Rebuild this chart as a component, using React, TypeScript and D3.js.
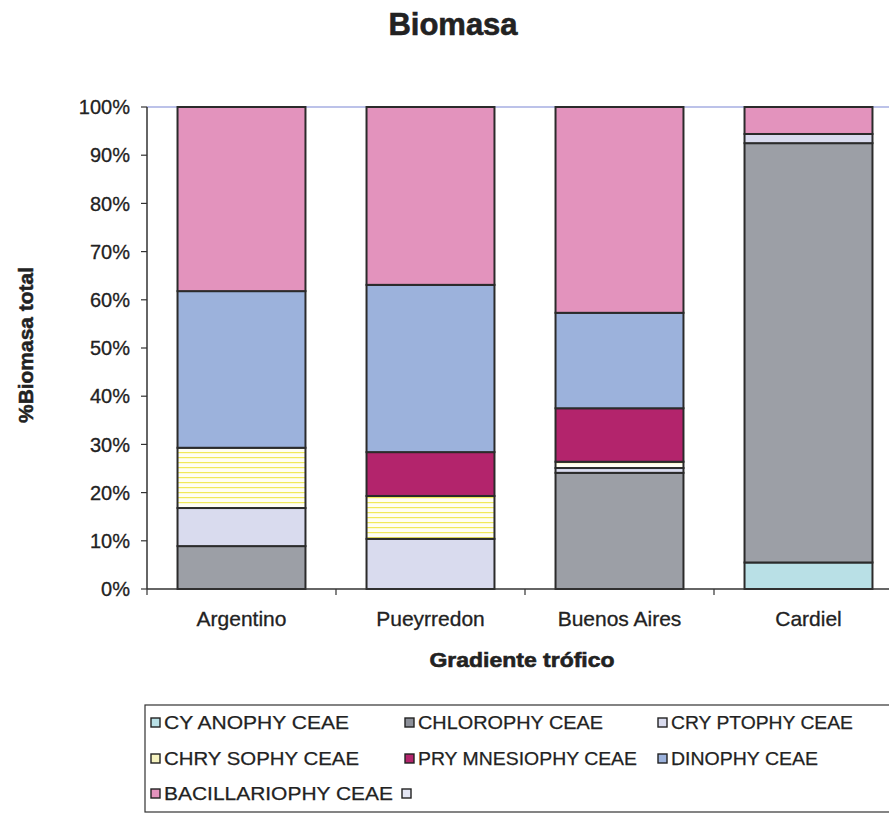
import React from "react";
import * as d3 from "d3";

// Sites along the trophic gradient
const categories = ["Argentino", "Pueyrredon", "Buenos Aires", "Cardiel"];

// Algal groups (stack order, bottom to top)
const groups = [
  "CYANOPHYCEAE",
  "CHLOROPHYCEAE",
  "CRYPTOPHYCEAE",
  "CHRYSOPHYCEAE",
  "PRYMNESIOPHYCEAE",
  "DINOPHYCEAE",
  "BACILLARIOPHYCEAE",
];

// Legend captions as printed
const legendLabels = [
  "CY ANOPHY CEAE",
  "CHLOROPHY CEAE",
  "CRY PTOPHY CEAE",
  "CHRY SOPHY CEAE",
  "PRY MNESIOPHY CEAE",
  "DINOPHY CEAE",
  "BACILLARIOPHY CEAE",
  "",
];

// Percent of total biomass per group, one value per site
const cyanophyceae = [0, 0, 0, 5.5];
const chlorophyceae = [8.9, 0, 24.1, 87.0];
const cryptophyceae = [7.9, 10.4, 1.0, 1.9];
const chrysophyceae = [12.5, 8.9, 1.3, 0];
const prymnesiophyceae = [0, 9.1, 11.1, 0];
const dinophyceae = [32.5, 34.7, 19.8, 0];
const bacillariophyceae = [38.2, 36.9, 42.7, 5.6];

const yTicks = [0, 10, 20, 30, 40, 50, 60, 70, 80, 90, 100];

const seriesValues = [
  cyanophyceae,
  chlorophyceae,
  cryptophyceae,
  chrysophyceae,
  prymnesiophyceae,
  dinophyceae,
  bacillariophyceae,
];

const fills: Record<string, string> = {
  CYANOPHYCEAE: "#b9e0e6",
  CHLOROPHYCEAE: "#9c9fa6",
  CRYPTOPHYCEAE: "#d9dbee",
  CHRYSOPHYCEAE: "url(#chrysoStripes)",
  PRYMNESIOPHYCEAE: "#b3246c",
  DINOPHYCEAE: "#9cb2dc",
  BACILLARIOPHYCEAE: "#e393bd",
};

const legendFills = [
  "#b9e0e6",
  "#8d9099",
  "#d9dbee",
  "#f6f3c0",
  "#b3246c",
  "#9cb2dc",
  "#e393bd",
  "#e4e6f4",
];

const legendWidths = [185, 185, 182, 195, 219, 147, 229, 0];

const FONT = "'Liberation Sans', Arial, Helvetica, sans-serif";

export default function App() {
  const W = 889;
  const H = 817;
  const left = 147;
  const top = 107;
  const bottom = 589;
  const plotRight = left + 189 * categories.length;

  const x = d3
    .scaleBand<string>()
    .domain(categories)
    .range([left, plotRight])
    .paddingInner(0.323)
    .paddingOuter(0.1615);

  const y = d3.scaleLinear().domain([0, 100]).range([bottom, top]);

  const rows = categories.map((c, i) => {
    const r: Record<string, number | string> = { site: c };
    groups.forEach((g, k) => (r[g] = seriesValues[k][i]));
    return r;
  });
  const stacked = d3.stack<Record<string, number | string>>().keys(groups)(rows as any);

  const step = x.step();
  const boundaries = d3.range(categories.length + 1).map((i) => left + i * step);

  // legend grid
  const legendCols = [151, 405, 658];
  const legendRows = [729, 765, 800];

  return (
    <svg
      width={W}
      height={H}
      style={{ position: "absolute", left: 0, top: 0, background: "#fff" }}
      fontFamily={FONT}
    >
      <defs>
        <pattern id="chrysoStripes" width="10" height="5" patternUnits="userSpaceOnUse">
          <rect width="10" height="5" fill="#fffef4" />
          <rect y="2" width="10" height="1.2" fill="#f1e95a" />
        </pattern>
      </defs>

      <text
        x={453}
        y={35}
        textAnchor="middle"
        fontWeight="bold"
        fontSize={31}
        fill="#222"
        stroke="#222"
        strokeWidth={0.6}
      >
        Biomasa
      </text>

      {/* plot area top border */}
      <line x1={left} x2={W} y1={top} y2={top} stroke="#7b86d4" strokeWidth={1.2} />

      {/* stacked bars */}
      <g>
        {stacked.map((layer) =>
          layer.map((d, i) => {
            const h = y(d[0]) - y(d[1]);
            if (h <= 0.01) return null;
            return (
              <rect
                key={layer.key + i}
                x={x(categories[i])}
                y={y(d[1])}
                width={x.bandwidth()}
                height={h}
                fill={fills[layer.key]}
                stroke="#2b2b2b"
                strokeWidth={2}
              />
            );
          })
        )}
      </g>

      {/* y axis */}
      <line x1={left} x2={left} y1={top} y2={bottom} stroke="#333" strokeWidth={1.5} />
      {yTicks.map((t) => (
        <g key={t}>
          <line x1={left - 6} x2={left} y1={y(t)} y2={y(t)} stroke="#333" strokeWidth={1.2} />
          <text
            x={130}
            y={y(t)}
            dy="0.36em"
            textAnchor="end"
            fontSize={20}
            fill="#222"
            stroke="#222"
            strokeWidth={0.3}
          >
            {t}%
          </text>
        </g>
      ))}

      {/* x axis */}
      <line x1={left} x2={W} y1={bottom} y2={bottom} stroke="#333" strokeWidth={1.5} />
      {boundaries.map((b, i) => (
        <line key={i} x1={b} x2={b} y1={bottom} y2={bottom + 6} stroke="#333" strokeWidth={1.2} />
      ))}
      {categories.map((c) => (
        <text
          key={c}
          x={(x(c) as number) + x.bandwidth() / 2}
          y={626}
          textAnchor="middle"
          fontSize={21}
          fill="#222"
          stroke="#222"
          strokeWidth={0.3}
        >
          {c}
        </text>
      ))}

      <text
        x={522}
        y={667}
        textAnchor="middle"
        fontWeight="bold"
        fontSize={21}
        fill="#222"
        stroke="#222"
        strokeWidth={0.6}
        textLength={185}
        lengthAdjust="spacingAndGlyphs"
      >
        Gradiente trófico
      </text>
      <text
        transform={`translate(33,345) rotate(-90)`}
        textAnchor="middle"
        fontWeight="bold"
        fontSize={20}
        fill="#222"
        stroke="#222"
        strokeWidth={0.5}
        textLength={156}
        lengthAdjust="spacingAndGlyphs"
      >
        %Biomasa total
      </text>

      {/* legend */}
      <rect x={145} y={705} width={W} height={107} fill="none" stroke="#333" strokeWidth={1.2} />
      {legendLabels.map((lab, i) => {
        const col = i % 3;
        const row = Math.floor(i / 3);
        const lx = i === 7 ? 402 : legendCols[col];
        const ly = legendRows[row];
        return (
          <g key={i}>
            <rect
              x={lx}
              y={ly - 11}
              width={9}
              height={9}
              fill={legendFills[i]}
              stroke="#222"
              strokeWidth={1.4}
            />
            {lab && (
              <text
                x={lx + 13}
                y={ly}
                fontSize={19}
                fill="#222"
                stroke="#222"
                strokeWidth={0.25}
                textLength={legendWidths[i]}
                lengthAdjust="spacingAndGlyphs"
              >
                {lab}
              </text>
            )}
          </g>
        );
      })}
    </svg>
  );
}
